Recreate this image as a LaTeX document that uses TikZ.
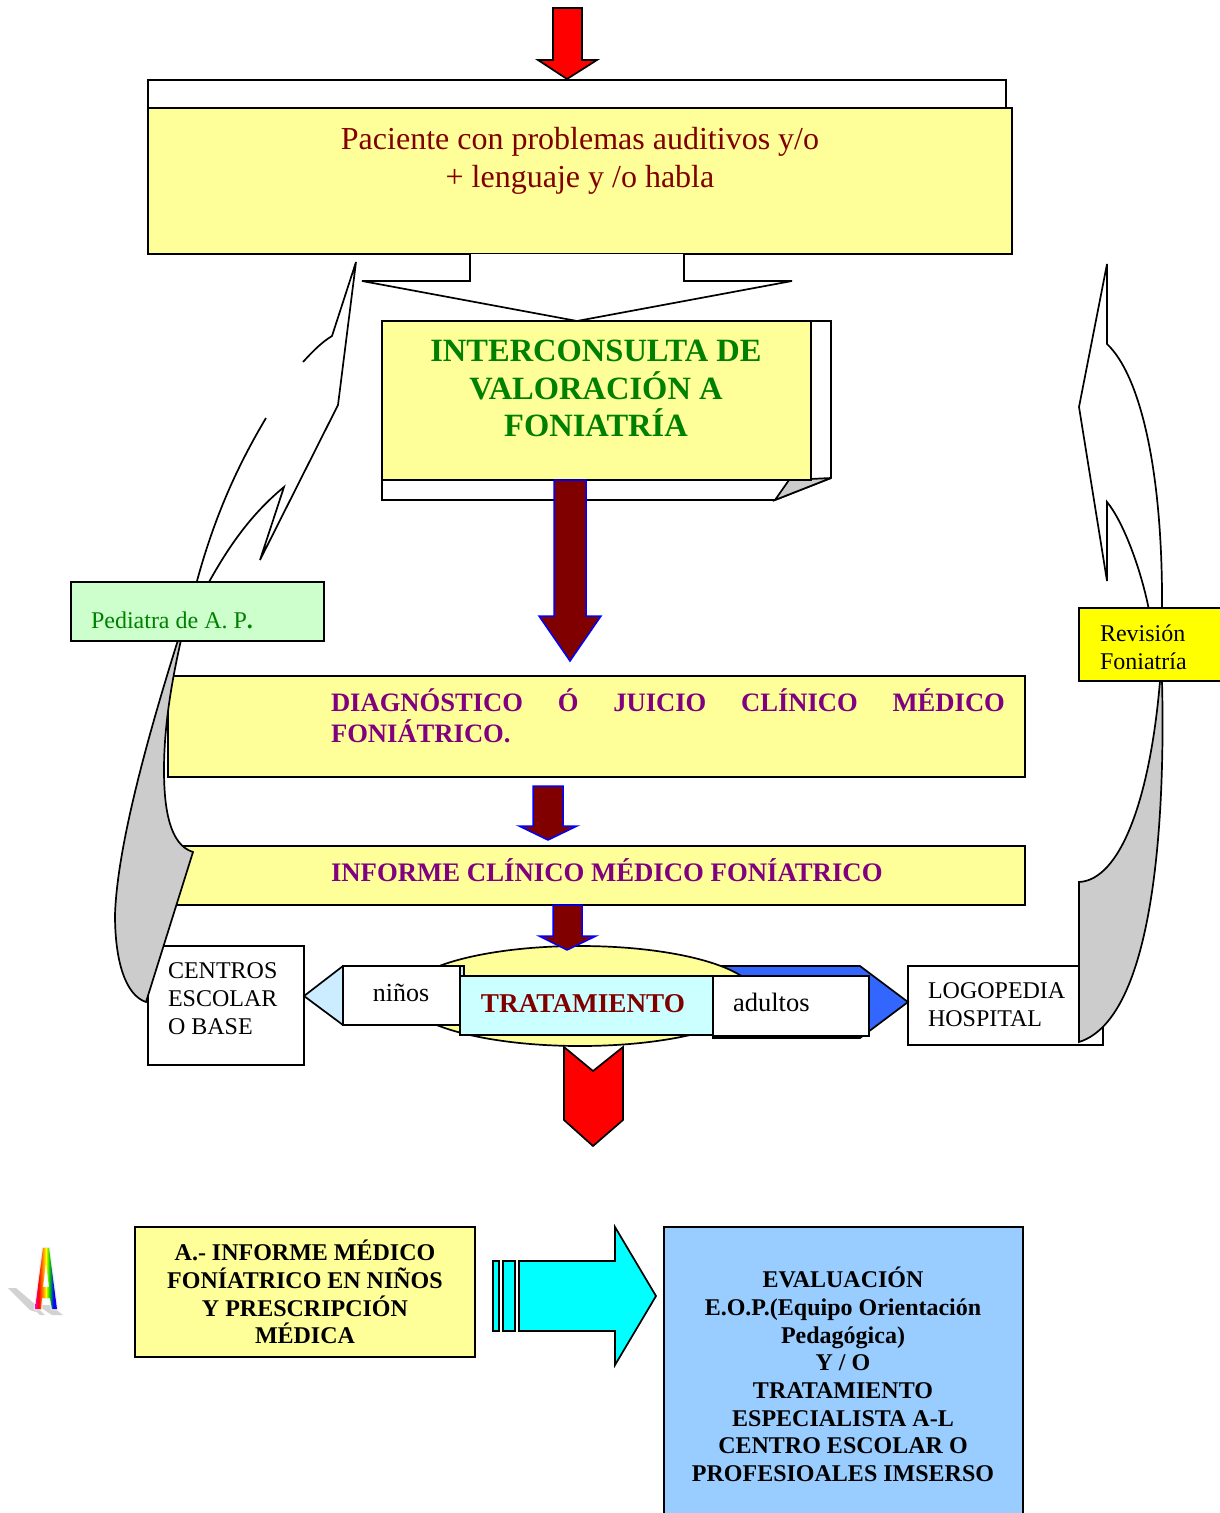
\documentclass[tikz,border=0pt]{standalone}
\usepackage{fontspec}
\setmainfont{Liberation Serif}
\usetikzlibrary{positioning}
\definecolor{softyellow}{HTML}{FFFF99}
\definecolor{darkred}{HTML}{800000}
\definecolor{purpleT}{HTML}{800080}
\definecolor{greenT}{HTML}{008000}
\definecolor{royal}{HTML}{3366FF}
\definecolor{paleblue}{HTML}{CCECFF}
\definecolor{palecyan}{HTML}{CCFFFF}
\definecolor{palegreen}{HTML}{CCFFCC}
\definecolor{skyb}{HTML}{99CCFF}
\definecolor{greyF}{HTML}{CCCCCC}
\definecolor{pureyellow}{HTML}{FFFF00}
\definecolor{purecyan}{HTML}{00FFFF}
\definecolor{purered}{HTML}{FF0000}
\definecolor{pureblue}{HTML}{0000FF}
\pgfdeclarehorizontalshading{rainbowA}{100bp}{
 color(0bp)=(magenta!80!red); color(25bp)=(magenta!80!red); color(33bp)=(purered); color(42bp)=(orange); color(50bp)=(pureyellow); color(58bp)=(green!80!black); color(67bp)=(pureblue); color(75bp)=(blue!70!purple); color(100bp)=(blue!70!purple)}
\newcommand{\fs}[2]{\fontsize{#1}{#2}\selectfont}
\tikzset{
 ln/.style={draw=black,line width=1.7pt,line join=miter,miter limit=4},
 bluearrow/.style={draw=pureblue,line width=1.5pt,fill=darkred},
 txt/.style={inner sep=0pt,outer sep=0pt,anchor=north},
 txtl/.style={inner sep=0pt,outer sep=0pt,anchor=north west,align=left},
}
\begin{document}
\begin{tikzpicture}[x=1pt,y=-1pt]
\useasboundingbox (0,0) rectangle (1219,1513);
\fill[white] (0,0) rectangle (1219,1513);
% top
\draw[ln,fill=white] (148,80) rectangle (1006,108);
\draw[ln,fill=softyellow] (148,108) rectangle (1012,254);
\draw[ln,fill=purered] (553,8) -- (582,8) -- (582,60) -- (597,60) -- (567,79) -- (538,60) -- (553,60) -- cycle;
\node[txt,align=center,text=darkred,font=\fs{32}{38}] (paciente) at (580,127) {Paciente con problemas auditivos y/o\\+ lenguaje y /o habla};
% callout
\draw[ln,fill=white] (470,254) -- (470,281) -- (362,281) -- (577,321) -- (792,281) -- (684,281) -- (684,254);
% interconsulta
\draw[ln,fill=white] (382,480) -- (382,500) -- (775,500) -- (831,478) -- (831,321) -- (811,321) -- (811,480) -- cycle;
\draw[ln,fill=greyF] (775,500) -- (831,478) -- (789,480) -- cycle;
\draw[ln,fill=softyellow] (382,321) rectangle (811,480);
\node[txt,align=center,text=greenT,font=\bfseries\fs{32.5}{37.5}] (inter) at (596,340) {INTERCONSULTA DE\\VALORACIÓN A\\FONIATRÍA};
\draw[bluearrow] (554,480) -- (586,480) -- (586,616) -- (601,616) -- (570,661) -- (539,616) -- (554,616) -- cycle;
% yellow bands
\draw[ln,fill=softyellow] (168,676) rectangle (1025,777);
\node[txtl,text=purpleT,font=\bfseries\fs{26.6}{31}] (diag) at (331,689) {\hbox to 674pt{DIAGNÓSTICO\hfill Ó\hfill JUICIO\hfill CLÍNICO\hfill MÉDICO}\\FONIÁTRICO.};
\draw[ln,fill=softyellow] (165,846) rectangle (1025,905);
\node[txtl,text=purpleT,font=\bfseries\fs{26.75}{31}] (inf) at (331,859) {INFORME CLÍNICO MÉDICO FONÍATRICO};
\draw[bluearrow] (533,786) -- (563,786) -- (563,826) -- (577,826) -- (548,840) -- (519,826) -- (533,826) -- cycle;
% centros box lies under the grey arrow
\draw[ln,fill=white] (148,946) rectangle (304,1065);
\node[txtl,font=\fs{24}{28}] (centros) at (168,963) {CENTROS\\ESCOLAR\\O BASE};
% left curved arrow
\fill[white] (356,262) -- (338,405) -- (260,560) -- (284,487) .. controls (250,515) and (225,550) .. (197,600) -- (197,581) .. controls (215,515) and (238,465) .. (266,418) -- (303,362) .. controls (313,351) and (322,342) .. (332,336) -- cycle;
\draw[ln] (303,362) .. controls (313,351) and (322,342) .. (332,336) -- (356,262) -- (338,405) -- (260,560) -- (284,487) .. controls (250,515) and (228,548) .. (209,582);
\draw[ln] (266,418) .. controls (238,465) and (215,515) .. (197,581);
\draw[ln,fill=greyF] (178,640) .. controls (145,745) and (117,850) .. (115,915) .. controls (115,960) and (125,995) .. (146,1002) -- (193,852) .. controls (170,845) and (164,810) .. (164,770) .. controls (164,725) and (172,680) .. (181,640) -- cycle;
% pediatra
\draw[ln,fill=palegreen] (71,582) rectangle (324,641);
\node[txtl,text=greenT,font=\fs{24}{28}] (ped) at (91,612) {Pediatra de A. P\textbf{.}};
% right curved arrow
\draw[ln,fill=white] (1107,264) -- (1107,344) .. controls (1140,375) and (1163,470) .. (1162,610) -- (1149,610) .. controls (1140,565) and (1122,520) .. (1107,502) -- (1107,581) -- (1079,407) -- cycle;
% logopedia
\draw[ln,fill=white] (908,966) rectangle (1103,1045);
\node[txtl,font=\fs{24}{28}] (logo) at (928,983) {LOGOPEDIA\\HOSPITAL};
% blue arrow, ellipse
\draw[ln,fill=royal] (713,966) -- (860,966) -- (908,1002) -- (860,1038) -- (713,1038) -- cycle;
\draw[ln,fill=softyellow] (580,996) ellipse [x radius=176,y radius=50];
\draw[bluearrow] (553,905) -- (582,905) -- (582,936) -- (596,936) -- (567,950) -- (539,936) -- (553,936) -- cycle;
% left small arrow
\draw[ln,fill=paleblue] (464,966) -- (343,966) -- (304,996) -- (343,1025) -- (464,1025) -- cycle;
\draw[ln,fill=white] (343,966) rectangle (460,1025);
\node[txt,font=\fs{26}{30}] (ninos) at (401,984) {niños};
\draw[ln,fill=palecyan] (460,976) rectangle (713,1035);
\node[txt,text=darkred,font=\bfseries\fs{27.2}{31}] (trat) at (583,994) {TRATAMIENTO};
\draw[ln,fill=white] (713,976) rectangle (869,1036);
\node[txtl,font=\fs{26.5}{30}] (adultos) at (733,993) {adultos};
% red chevron
\draw[ln,fill=purered] (564,1047) -- (593,1071) -- (623,1047) -- (623,1120) -- (593,1146) -- (564,1120) -- cycle;
% right grey
\draw[ln,fill=pureyellow] (1079,608) rectangle (1221,681);
\node[txtl,font=\fs{24}{28}] (rev) at (1100,625) {Revisión\\Foniatría};
\draw[ln,fill=greyF] (1162,681) .. controls (1164,760) and (1165,1015) .. (1079,1042) -- (1079,882) .. controls (1120,880) and (1150,800) .. (1160,681) -- cycle;
% bottom
\draw[ln,fill=softyellow] (135,1227) rectangle (475,1357);
\node[txt,align=center,font=\bfseries\fs{24}{27.7}] (informe) at (305,1240) {A.- INFORME MÉDICO\\FONÍATRICO EN NIÑOS\\Y PRESCRIPCIÓN\\MÉDICA};
\draw[ln,fill=purecyan] (493,1261) rectangle (499,1331);
\draw[ln,fill=purecyan] (503,1261) rectangle (515,1331);
\draw[ln,fill=purecyan] (519,1261) -- (615,1261) -- (615,1227) -- (656,1296) -- (615,1365) -- (615,1331) -- (519,1331) -- cycle;
\draw[ln,fill=skyb] (664,1516) -- (664,1227) -- (1023,1227) -- (1023,1516);
\node[txt,align=center,font=\bfseries\fs{24}{27.7}] (eval) at (843,1267) {EVALUACIÓN\\E.O.P.(Equipo Orientación\\Pedagógica)\\Y / O\\TRATAMIENTO\\ESPECIALISTA A-L\\CENTRO ESCOLAR O\\PROFESIOALES IMSERSO};
% rainbow logo
\fill[gray!35] (8,1288) -- (16,1288) -- (36,1305) -- (36,1312) -- (30,1310) -- cycle;
\fill[gray!35] (37,1305) -- (50,1305) -- (63,1315) -- (52,1315) -- cycle;
\fill[gray!35] (33,1308) -- (38,1308) -- (45,1315) -- (40,1315) -- cycle;
\draw[gray!15,line width=2.5pt,line join=round] (43,1248) -- (49,1248) -- (57,1309) -- (52,1309) -- (50,1298) -- (42,1298) -- (41,1309) -- (35,1309) -- cycle;
\shade[shading=rainbowA,even odd rule] (43,1248) -- (49,1248) -- (57,1309) -- (52,1309) -- (50,1298) -- (42,1298) -- (41,1309) -- (35,1309) -- cycle (46,1263) -- (43,1287) -- (49,1287) -- cycle;
\end{tikzpicture}
\end{document}
